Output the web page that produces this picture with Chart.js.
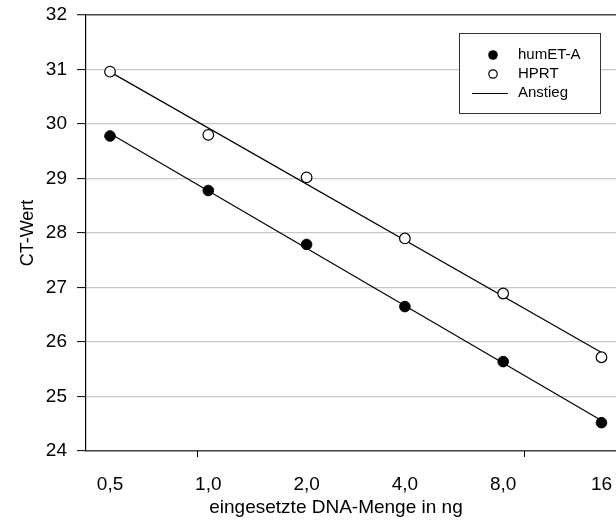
<!DOCTYPE html>
<html><head><meta charset="utf-8">
<script src="https://cdn.jsdelivr.net/npm/chart.js@4.4.0/dist/chart.umd.min.js"></script>
<style>
html,body{margin:0;padding:0;background:#fff;overflow:hidden;width:616px;height:521px}
#wrap{position:relative;width:672px;height:521px}
</style></head>
<body><div id="wrap"><canvas id="c" width="672" height="521"></canvas></div>
<script>
// ---- data ----
const doses = [0.5, 1, 2, 4, 8, 16];                    // ng DNA
const humETA = [29.78, 28.78, 27.79, 26.65, 25.64, 24.52];
const hprt   = [30.96, 29.80, 29.02, 27.90, 26.89, 25.72];
const xTickValues = [0.5, 1, 2, 4, 8, 16];
const xTickLabels = ['0,5', '1,0', '2,0', '4,0', '8,0', '16'];
const xTickMarks  = [0.924, 9.29];
const seriesNames = ['humET-A', 'HPRT', 'Anstieg'];

// least-squares fit of CT against log2(dose) -> "Anstieg"
function fitLine(xs, ys) {
  const lx = xs.map(v => Math.log2(v));
  const n = lx.length;
  const mx = lx.reduce((a, b) => a + b, 0) / n;
  const my = ys.reduce((a, b) => a + b, 0) / n;
  let sxy = 0, sxx = 0;
  for (let i = 0; i < n; i++) { sxy += (lx[i] - mx) * (ys[i] - my); sxx += (lx[i] - mx) ** 2; }
  const b = sxy / sxx, a = my - b * mx;
  const x0 = xs[0], x1 = xs[n - 1];
  return [{x: x0, y: a + b * Math.log2(x0)}, {x: x1, y: a + b * Math.log2(x1)}];
}
const pts = (xs, ys) => xs.map((x, i) => ({x, y: ys[i]}));

Chart.defaults.font.family = '"Liberation Sans", Arial, sans-serif';
Chart.defaults.color = '#000';

const extraTicks = {
  id: 'extraTicks',
  afterDraw(chart) {
    const s = chart.scales.x, ctx = chart.ctx, b = chart.chartArea.bottom;
    ctx.save(); ctx.strokeStyle = '#000'; ctx.lineWidth = 1;
    xTickMarks.forEach(v => {
      const px = Math.round(s.getPixelForValue(v)) + 0.5;
      ctx.beginPath(); ctx.moveTo(px, b); ctx.lineTo(px, b + 6); ctx.stroke();
    });
    ctx.restore();
  }
};

const boxLegend = {
  id: 'boxLegend',
  afterDraw(chart, args, o) {
    const ctx = chart.ctx;
    ctx.save();
    ctx.fillStyle = '#fff'; ctx.fillRect(o.x, o.y, o.w, o.h);
    ctx.strokeStyle = '#333'; ctx.lineWidth = 1;
    ctx.strokeRect(o.x + 0.5, o.y + 0.5, o.w, o.h);
    ctx.font = '15px "Liberation Sans", Arial, sans-serif';
    ctx.textBaseline = 'middle'; ctx.fillStyle = '#000';
    const mx = o.x + 34, tx = o.x + 59;
    ctx.beginPath(); ctx.arc(mx, o.rows[0], 4.8, 0, Math.PI * 2); ctx.fill();
    ctx.fillText(seriesNames[0], tx, o.rows[0]);
    ctx.beginPath(); ctx.arc(mx, o.rows[1], 4.2, 0, Math.PI * 2);
    ctx.fillStyle = '#fff'; ctx.fill(); ctx.lineWidth = 1.2; ctx.strokeStyle = '#000'; ctx.stroke();
    ctx.fillStyle = '#000'; ctx.fillText(seriesNames[1], tx, o.rows[1]);
    ctx.beginPath(); ctx.lineWidth = 1; ctx.moveTo(o.x + 13, o.rows[2] + 0.5); ctx.lineTo(o.x + 49, o.rows[2] + 0.5); ctx.stroke();
    ctx.fillText(seriesNames[2], tx, o.rows[2]);
    ctx.restore();
  }
};

new Chart(document.getElementById('c'), {
  type: 'scatter',
  data: {
    datasets: [
      {label: seriesNames[0], data: pts(doses, humETA), order: 0,
       pointRadius: 5.3, pointBackgroundColor: '#000', pointBorderColor: '#000', pointBorderWidth: 1},
      {label: seriesNames[1], data: pts(doses, hprt), order: 0,
       pointRadius: 5.3, pointBackgroundColor: '#fff', pointBorderColor: '#000', pointBorderWidth: 1.2},
      {label: seriesNames[2], data: fitLine(doses, humETA), order: 1, showLine: true,
       pointRadius: 0, borderColor: '#000', borderWidth: 1.2},
      {label: seriesNames[2], data: fitLine(doses, hprt), order: 1, showLine: true,
       pointRadius: 0, borderColor: '#000', borderWidth: 1.2}
    ]
  },
  options: {
    responsive: false, animation: false, devicePixelRatio: 1,
    layout: {padding: {top: 15, left: 0, right: 0, bottom: 0}},
    plugins: {
      legend: {display: false}, tooltip: {enabled: false},
      title: {display: true, position: 'bottom', text: 'eingesetzte DNA-Menge in ng',
              font: {size: 19, weight: 'normal'}, color: '#000', padding: {top: 0, bottom: 2}},
      boxLegend: {x: 459, y: 33, w: 141, h: 80, rows: [55, 74, 93]}
    },
    scales: {
      x: {
        type: 'logarithmic', min: 0.4221, max: 25.13,
        afterBuildTicks: s => { s.ticks = xTickValues.map(v => ({value: v})); },
        afterFit: s => { s.height = 45.2; },
        ticks: {autoSkip: false, maxRotation: 0, padding: 22, font: {size: 19},
                callback: v => { const i = xTickValues.indexOf(v); return i >= 0 ? xTickLabels[i] : ''; }},
        grid: {display: false, drawTicks: false},
        border: {display: true, color: '#444', width: 1.5}
      },
      y: {
        min: 24, max: 32,
        afterFit: s => { s.width = 86; s.paddingTop = 0; s.paddingBottom = 0; },
        ticks: {stepSize: 1, padding: 10, font: {size: 19}},
        grid: {color: c => c.tick && c.tick.value === 32 ? '#444' : '#c8c8c8',
               lineWidth: c => c.tick && c.tick.value === 32 ? 1.5 : 1.2,
               tickLength: 9, tickColor: '#000', tickWidth: 1},
        border: {display: true, color: '#000', width: 1.2},
        title: {display: true, text: 'CT-Wert', font: {size: 18}, padding: {top: 17, bottom: 0}}
      }
    }
  },
  plugins: [extraTicks, boxLegend]
});
</script>
</body></html>
